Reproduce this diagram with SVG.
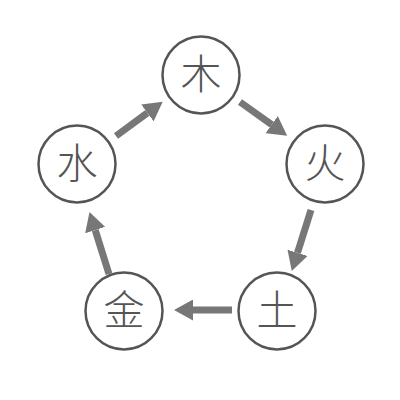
<svg xmlns="http://www.w3.org/2000/svg" width="400" height="400" viewBox="0 0 400 400">
<style>
.n circle{fill:#fff;stroke:#555;stroke-width:2.5}
.n text{font-family:"Noto Sans CJK SC","Noto Sans CJK JP",sans-serif;font-size:41px;font-weight:300;fill:#555;text-anchor:middle}
.c line{stroke:#777;stroke-width:7}
</style>
<defs>
<marker id="ah" markerUnits="userSpaceOnUse" viewBox="0 0 19 21" markerWidth="19" markerHeight="21" refX="0" refY="10.5" orient="auto">
<path d="M0,0 L19,10.5 L0,21 z" fill="#777"/>
</marker>
</defs>
<rect width="400" height="400" fill="#fff"/>
<g class="c" id="connectors">
<line x1="116" y1="136" x2="147.4" y2="112.9" marker-end="url(#ah)"/>
<line x1="240" y1="102" x2="271.7" y2="124.6" marker-end="url(#ah)"/>
<line x1="311" y1="210" x2="297.5" y2="252.8" marker-end="url(#ah)"/>
<line x1="232" y1="310" x2="193" y2="310" marker-end="url(#ah)"/>
<line x1="109" y1="274" x2="95.2" y2="230.1" marker-end="url(#ah)"/>
</g>
<g class="n" id="wood"><circle cx="201" cy="75" r="38.5"/><text x="201" y="89">木</text></g>
<g class="n" id="fire"><circle cx="325" cy="164" r="38.5"/><text x="325" y="178">火</text></g>
<g class="n" id="earth"><circle cx="277" cy="311" r="38.5"/><text x="277" y="325">土</text></g>
<g class="n" id="metal"><circle cx="124" cy="311" r="38.5"/><text x="124" y="325">金</text></g>
<g class="n" id="water"><circle cx="77" cy="164" r="38.5"/><text x="77" y="178">水</text></g>
</svg>
